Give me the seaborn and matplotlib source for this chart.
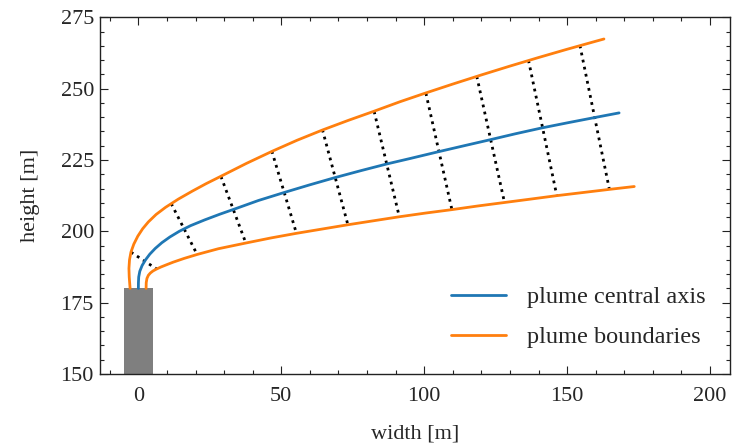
import numpy as np
import pandas as pd
import matplotlib
matplotlib.use("Agg")
import matplotlib.pyplot as plt
import seaborn as sns

# ---- data ----
axis_x = [0, 0.02, 0.12, 0.5, 1.3, 2.5, 4.0, 5.9, 8.2, 11.0, 14.3, 18.3, 23.2, 28.5,
          34.2, 42, 51, 60, 68.7, 78, 86.9, 95, 105, 114, 123.1, 132, 141, 150,
          159.8, 168.2]
axis_y = [180, 182, 184, 186, 188, 190, 192, 194, 196, 198, 200, 202, 204, 206,
          208, 210.8, 213.6, 216.3, 218.8, 221.3, 223.6, 225.5, 227.9, 230.0, 232.1,
          234.2, 236.2, 238.0, 239.9, 241.5]

upper_x = [-2.9, -3.2, -3.3, -3.1, -2.6, -1.6, -0.2, 1.5, 3.5, 6.2, 9.5, 14, 18.9,
           23.7, 28.9, 37.8, 46.7, 55.5, 64.4, 73.5, 82.5, 91.5, 100, 110, 120,
           130, 140, 150, 160, 162.9]
upper_y = [180, 184, 187, 190, 192.7, 195.5, 198.3, 200.9, 203.3, 205.9, 208.4,
           211.3, 214.1, 216.7, 219.3, 223.8, 228.0, 231.9, 235.5, 238.9, 242.1,
           245.4, 248.3, 251.6, 254.8, 257.9, 260.9, 263.8, 266.6, 267.4]

lower_x = [2.7, 2.75, 3.0, 3.5, 4.2, 5.1, 6.2, 7.9, 9.9, 12.2, 16, 20.6, 28, 37.6,
           46.5, 55.3, 64.3, 73.3, 82.3, 91.3, 100.5, 109.7, 118.9, 128.1, 137.3,
           146.4, 155.6, 164.8, 173.5]
lower_y = [180, 182, 183.5, 184.6, 185.4, 186.1, 186.7, 187.5, 188.3, 189.2, 190.5,
           191.9, 193.9, 195.9, 197.7, 199.3, 200.8, 202.3, 203.7, 205.1, 206.4,
           207.6, 208.9, 210.1, 211.3, 212.5, 213.6, 214.7, 215.7]

# cross sections (upper end -> lower end)
sec_top_x = [-2.6, 11.5, 28.9, 46.7, 64.4, 82.5, 100.6, 118.4, 136.5, 154.5]
sec_top_y = [192.7, 209.7, 219.2, 228.1, 235.6, 242.0, 248.4, 254.3, 259.9, 265.1]
sec_bot_x = [6.4, 20.5, 37.6, 55.3, 73.3, 91.3, 109.7, 128.1, 146.4, 164.8]
sec_bot_y = [186.8, 192.0, 195.9, 199.3, 202.3, 205.1, 207.6, 210.1, 212.5, 214.7]

stack_x = [0]
stack_width = [10]
stack_top = [180]

x_ticks = [0, 50, 100, 150, 200]
y_ticks = [150, 175, 200, 225, 250, 275]

# ---- style ----
sns.set_style("ticks")
plt.rcParams['font.family'] = ['Liberation Serif', 'DejaVu Serif']

FS = 16
FS_LEG = 17.5
fig = plt.figure(figsize=(7.33, 4.48), dpi=100)
ax = fig.add_axes([99.5 / 733, 74 / 448, 630.5 / 733, 356.7 / 448])

# chimney
ax.bar(stack_x, stack_top, width=stack_width, bottom=0, color='#7f7f7f',
       edgecolor='none', zorder=1)

# cross sections
for tx, ty, bx, by in zip(sec_top_x, sec_top_y, sec_bot_x, sec_bot_y):
    ax.plot([tx, bx], [ty, by], color='black', lw=2.0,
            linestyle=(0, (1, 1.6)), zorder=2)

df_axis = pd.DataFrame({'x': axis_x, 'y': axis_y})
df_up = pd.DataFrame({'x': upper_x, 'y': upper_y})
df_lo = pd.DataFrame({'x': lower_x, 'y': lower_y})

sns.lineplot(data=df_axis, x='x', y='y', sort=False, estimator=None, ax=ax,
             color='#1f77b4', lw=2, label='plume central axis', zorder=3)
sns.lineplot(data=df_up, x='x', y='y', sort=False, estimator=None, ax=ax,
             color='#ff7f0e', lw=2, label='plume boundaries', zorder=3)
sns.lineplot(data=df_lo, x='x', y='y', sort=False, estimator=None, ax=ax,
             color='#ff7f0e', lw=2, label='_nolegend_', zorder=3)

ax.set_xlim(-13.6, 207)
ax.set_ylim(150, 275)
ax.set_xticks(x_ticks)
ax.set_yticks(y_ticks)
ax.set_xticklabels([str(v) for v in x_ticks])
ax.set_yticklabels([str(v) for v in y_ticks])
ax.xaxis.set_minor_locator(matplotlib.ticker.MultipleLocator(10))
ax.yaxis.set_minor_locator(matplotlib.ticker.MultipleLocator(5))
ax.tick_params(which='both', direction='in', top=True, right=True,
               labelsize=FS, color='#222222')
ax.tick_params(which='major', length=5.5, width=0.8)
ax.tick_params(which='minor', length=2.7, width=0.8)
ax.tick_params(axis='x', which='major', pad=9)
ax.tick_params(axis='y', which='major', pad=4)
for s in ax.spines.values():
    s.set_linewidth(1.0)
    s.set_color('#222222')

ax.set_xlabel('width [m]', fontsize=FS, labelpad=14)
ax.set_ylabel('height [m]', fontsize=FS, labelpad=15)

leg = ax.legend(loc='upper left', bbox_to_anchor=(451 / 733, (448 - 286) / 448),
                bbox_transform=fig.transFigure, frameon=False, fontsize=FS_LEG,
                handlelength=2.26, handletextpad=0.86, labelspacing=0.75,
                borderpad=0, borderaxespad=0)

fig.savefig('out.png', dpi=100)
